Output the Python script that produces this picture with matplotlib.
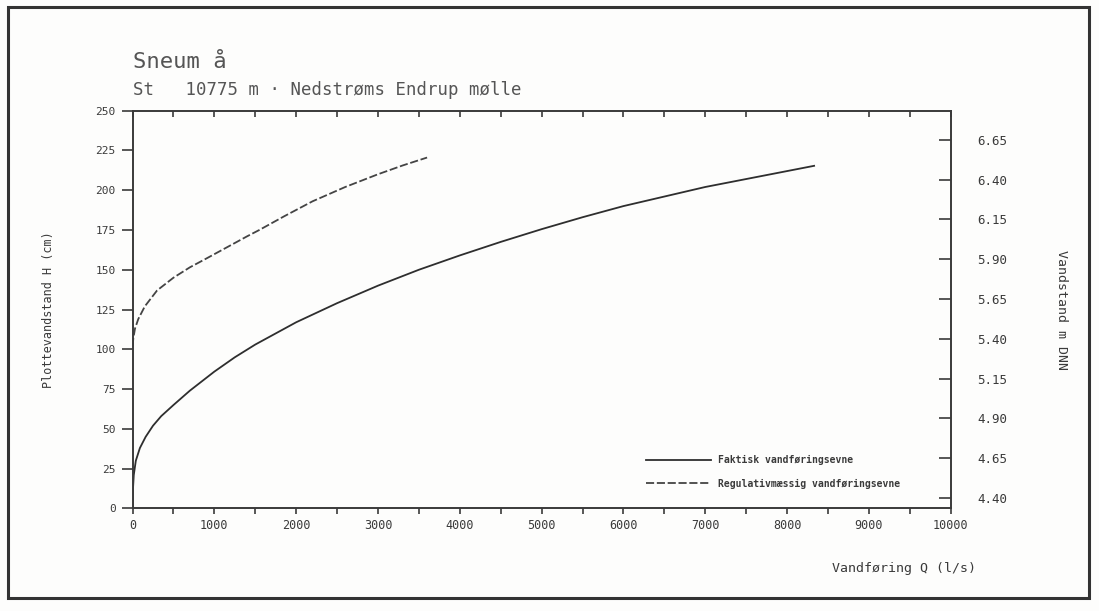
import numpy as np
from matplotlib import pyplot as plt
from matplotlib.patches import Rectangle
from matplotlib.ticker import MultipleLocator, FixedLocator

# vandfoering Q (l/s) og plottevandstand H (cm)
q_faktisk = [0, 5, 15, 40, 90, 160, 250, 350, 500, 700, 1000, 1250, 1500,
             1750, 2000, 2500, 3000, 3500, 4000, 4500, 5000, 5500, 6000,
             6500, 7000, 7500, 8000, 8330]
h_faktisk = [0, 12, 21, 30, 38, 45, 52, 58, 65, 74, 86, 95, 103,
             110, 117, 129, 140, 150, 159, 167.5, 175.5, 183, 190,
             196, 202, 207, 212, 215.3]

q_regulativ = [0, 10, 30, 70, 150, 300, 500, 700, 900, 1150, 1400, 1550,
               1850, 2200, 2600, 3000, 3300, 3600]
h_regulativ = [102, 107, 113, 119, 127, 137, 145, 151.5, 157, 164, 171, 175,
               183.5, 193, 202, 210, 215.5, 220.5]

# kote for plottevandstandens nulpunkt (m DNN)
nulpunkt = 4.334
dnn_ticks = [4.40, 4.65, 4.90, 5.15, 5.40, 5.65, 5.90, 6.15, 6.40, 6.65]

ink = '#3a3a3a'
plt.rcParams['font.family'] = ['DejaVu Sans Mono', 'DejaVu Sans']
plt.rcParams['text.color'] = ink

fig = plt.figure(figsize=(10.99, 6.11), dpi=100, facecolor='#fdfdfc')
ax = fig.add_axes([0.1206, 0.1678, 0.7445, 0.6512])
ax.set_facecolor('none')

ax.plot(q_faktisk, h_faktisk, color='#2e2e2e', lw=1.3,
        label='Faktisk vandføringsevne')
ax.plot(q_regulativ, h_regulativ, color='#444444', lw=1.3,
        linestyle=(0, (4.5, 1.5)), label='Regulativmæssig vandføringsevne')

ax.set_xlim(0, 10000)
ax.set_ylim(0, 250)
ax.xaxis.set_major_locator(MultipleLocator(1000))
ax.xaxis.set_minor_locator(MultipleLocator(500))
ax.yaxis.set_major_locator(MultipleLocator(25))

for sp in ax.spines.values():
    sp.set_color(ink)
    sp.set_linewidth(1.4)

ax.tick_params(axis='x', which='both', direction='out', length=4.5, width=1.2,
               color=ink, labelsize=8.5, labelcolor=ink, pad=3)
ax.tick_params(axis='y', direction='out', length=8, width=1.2, color=ink,
               labelsize=8, labelcolor=ink, pad=4)

# tickmarks langs toppen, indad
top = ax.secondary_xaxis('top')
top.xaxis.set_major_locator(MultipleLocator(500))
top.tick_params(direction='in', length=4, width=1.2, color=ink, labeltop=False)
top.spines['top'].set_visible(False)

# hoejre akse i m DNN
ax2 = ax.twinx()
ax2.set_ylim(nulpunkt, nulpunkt + 2.5)
ax2.yaxis.set_major_locator(FixedLocator(dnn_ticks))
ax2.set_yticklabels([f'{v:.2f}' for v in dnn_ticks])
ax2.tick_params(axis='y', direction='in', length=9, width=1.2, color=ink,
                labelsize=9, labelcolor=ink, pad=19)
for sp in ax2.spines.values():
    sp.set_visible(False)

ax.set_ylabel('Plottevandstand H (cm)', fontsize=8.5, color=ink, labelpad=29)
ax2.set_ylabel('Vandstand m DNN', fontsize=9.5, color=ink, rotation=-90,
               labelpad=44)
ax.set_xlabel('Vandføring Q (l/s)', fontsize=9.5, color=ink)
ax.xaxis.set_label_coords(0.943, -0.135)

leg = ax.legend(loc='lower left', bbox_to_anchor=(0.628, 0.05), frameon=False,
                prop={'size': 7, 'weight': 'bold'}, handlelength=6.6,
                handletextpad=0.8, labelspacing=1.35, borderpad=0,
                borderaxespad=0)
for t in leg.get_texts():
    t.set_color(ink)

fig.text(0.121, 0.889, 'Sneum å', fontsize=16, color='#555555')
fig.text(0.121, 0.845, 'St   10775 m · Nedstrøms Endrup mølle',
         fontsize=12.5, color='#555555')

# ramme om hele tegningen
fig.patches.append(Rectangle((0.0073, 0.0213), 0.9837, 0.967,
                             transform=fig.transFigure, fill=False,
                             edgecolor='#333333', linewidth=2.2))

fig.savefig('out.png', dpi=100, facecolor=fig.get_facecolor())
